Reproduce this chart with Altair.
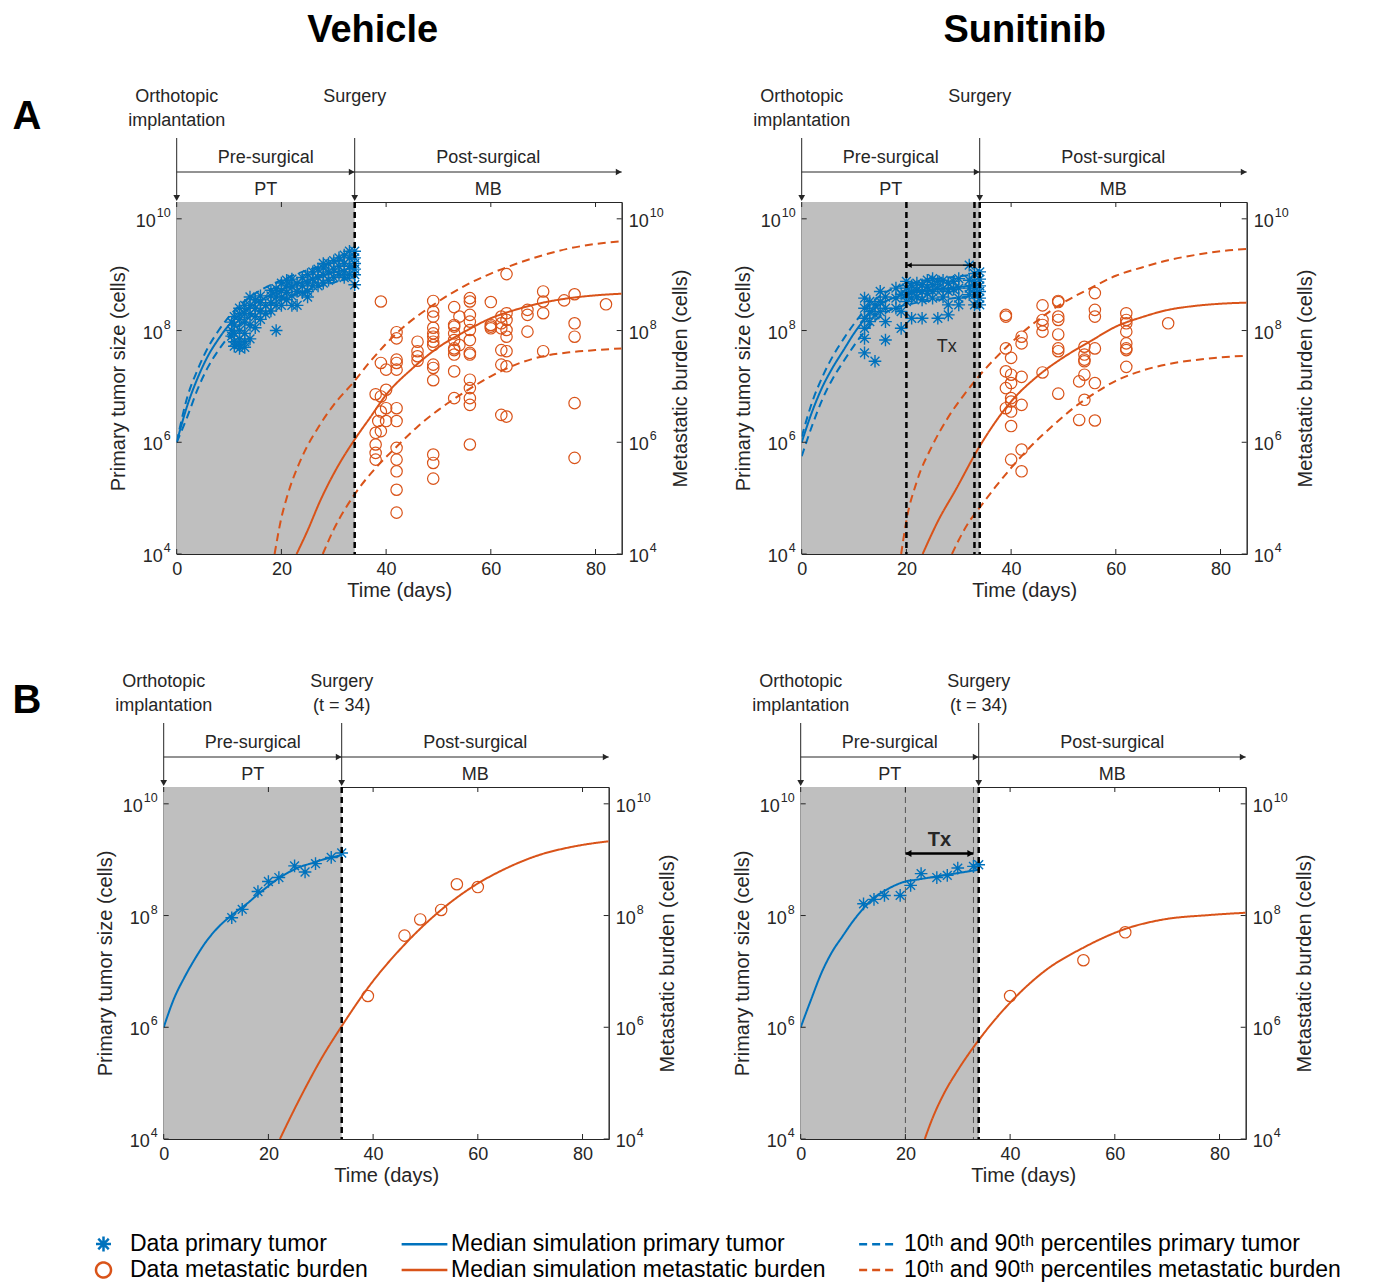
import altair as alt
import pandas as pd

# ---------------- style ----------------
BLUE = "#0072BD"
ORANGE = "#D95319"
SHADE = "#BFBFBF"
INK = "#262626"
FONT = "Liberation Sans"

# ---------------- legend categories ----------------
SERIES = [
    "Data primary tumor",
    "Median simulation primary tumor",
    "10ᵗʰ and 90ᵗʰ percentiles primary tumor",
    "Data metastatic burden",
    "Median simulation metastatic burden",
    "10ᵗʰ and 90ᵗʰ percentiles metastatic burden",
]
ASTERISK = "M-1,0L1,0M0,-1L0,1M-0.7,-0.7L0.7,0.7M-0.7,0.7L0.7,-0.7"
LONG_STROKE = "M-3.05,0L3.05,0"
SHORT_STROKE = "M-2.45,0L2.45,0"
SHAPES = [ASTERISK, LONG_STROKE, SHORT_STROKE, "circle", LONG_STROKE, SHORT_STROKE]
COLORS = [BLUE, BLUE, BLUE, ORANGE, ORANGE, ORANGE]
DASHES = [[1, 0], [1, 0], [8, 5], [1, 0], [1, 0], [8, 5]]

# ---------------- axes ----------------
X_TICKS = [0, 20, 40, 60, 80]
X_DOMAIN = [0, 85]
Y_EXP = [4, 6, 8, 10]
Y_BASE = "10"
Y_DOMAIN = [1e4, 2e10]

# ---------------- timeline ----------------
EVENT_DAYS = [0, 34]
EVENT_LINE1 = ["Orthotopic", "Surgery"]
EVENT_LINE2_A = ["implantation", ""]
EVENT_LINE2_B = ["implantation", "(t = 34)"]
PHASE_START = [0, 34]
PHASE_END = [34, 85]
PHASE_NAME = ["Pre-surgical", "Post-surgical"]
PHASE_COMP = ["PT", "MB"]
SURGERY_DAY = [34]
TX_START = [20]
TX_END = [33]

# ================= A: Vehicle =================
veh_pt_days = [10.5, 11, 12, 13, 14, 15, 16, 17, 18, 19, 20, 21, 22, 23, 24, 25, 26, 27, 28, 29, 30, 31, 32, 33, 34]
veh_pt_log10 = [
    [8.0, 8.15, 7.9], [7.72, 7.8, 7.95, 8.1, 8.25], [7.68, 7.75, 7.85, 8.0, 8.2, 8.3, 8.4],
    [7.7, 7.8, 7.95, 8.15, 8.3, 8.45], [7.85, 8.1, 8.3, 8.45, 8.6], [8.05, 8.25, 8.4, 8.55],
    [8.2, 8.35, 8.5, 8.62], [8.3, 8.45], [8.35, 8.5, 8.62, 8.72], [8.0, 8.45, 8.6, 8.75],
    [8.45, 8.6, 8.72, 8.85], [8.55, 8.68, 8.8, 8.9], [8.45, 8.62, 8.78, 8.92], [8.45, 8.7, 8.85],
    [8.68, 8.8, 8.95], [8.6, 8.7, 8.85, 9.0], [8.8, 8.92, 9.05], [8.8, 8.95, 9.1],
    [8.85, 9.0, 9.12, 9.2], [8.9, 9.05, 9.2], [8.95, 9.1, 9.25], [9.0, 9.15, 9.3],
    [8.95, 9.05, 9.2, 9.35], [9.0, 9.15, 9.3, 9.42], [8.82, 9.0, 9.1, 9.2, 9.3, 9.42],
]
veh_mb_days = [38, 38.5, 39, 40, 42, 46, 49, 53, 54, 56, 60, 62, 63, 67, 70, 74, 76, 82]
veh_mb_log10 = [
    [6.86, 5.96, 5.81, 5.69, 6.17], [6.38], [8.52, 7.42, 6.82, 6.55, 6.20], [7.30, 6.94, 6.61, 6.38],
    [7.97, 7.86, 7.48, 7.42, 7.30, 6.61, 6.38, 5.90, 5.69, 5.48, 5.15, 4.74], [7.80, 7.63, 7.54, 7.46],
    [8.53, 8.34, 8.25, 8.05, 7.95, 7.89, 7.80, 7.74, 7.39, 7.33, 7.11, 5.78, 5.63, 5.35],
    [8.42, 8.10, 8.07, 7.95, 7.83, 7.68, 7.65, 7.57, 7.27, 6.79], [8.25, 7.74],
    [8.58, 8.52, 8.28, 8.16, 8.01, 7.83, 7.60, 7.57, 7.12, 6.97, 6.79, 6.67, 5.96],
    [8.51, 8.10, 8.07, 8.04], [8.25, 8.13, 8.04, 7.65, 7.39, 6.49],
    [9.01, 8.31, 8.19, 8.01, 7.89, 7.63, 7.36, 6.46], [8.37, 8.28, 7.98], [8.70, 8.52, 8.31, 7.63],
    [8.54], [8.65, 8.13, 7.89, 6.70, 5.72], [8.47],
]
veh_pt_sim_days = [0, 2, 4, 6, 8, 10, 12, 14, 16, 18, 20, 22, 24, 26, 28, 30, 32, 34]
veh_pt_med = [6.0, 6.65, 7.15, 7.55, 7.85, 8.1, 8.27, 8.42, 8.54, 8.64, 8.73, 8.8, 8.87, 8.93, 8.99, 9.04, 9.09, 9.13]
veh_pt_p90 = [6.0, 6.8, 7.3, 7.7, 8.0, 8.25, 8.45, 8.6, 8.72, 8.82, 8.9, 8.98, 9.05, 9.11, 9.17, 9.22, 9.27, 9.31]
veh_pt_p10 = [6.0, 6.45, 6.95, 7.35, 7.65, 7.9, 8.1, 8.25, 8.37, 8.47, 8.55, 8.62, 8.69, 8.75, 8.81, 8.86, 8.91, 8.95]
veh_mb_med_days = [22.9, 25, 27.4, 30.6, 34, 37, 40, 45, 50, 55, 60, 65, 70, 75, 80, 85]
veh_mb_med = [4.0, 4.42, 4.95, 5.54, 6.05, 6.45, 6.85, 7.32, 7.7, 7.98, 8.22, 8.38, 8.5, 8.58, 8.63, 8.66]
veh_mb_p90_days = [18.7, 20, 21, 24, 27, 30, 34, 37, 42, 50, 55, 60, 65, 70, 75, 80, 85]
veh_mb_p90 = [4.0, 4.65, 5.0, 5.75, 6.26, 6.67, 7.1, 7.45, 7.95, 8.52, 8.8, 9.02, 9.2, 9.35, 9.47, 9.55, 9.6]
veh_mb_p10_days = [27.9, 30, 34, 38, 42, 46, 50, 55, 60, 65, 70, 75, 80, 85]
veh_mb_p10 = [4.0, 4.44, 5.07, 5.54, 5.92, 6.28, 6.58, 6.9, 7.18, 7.4, 7.54, 7.61, 7.65, 7.68]

# ================= A: Sunitinib =================
sun_pt_days = [12, 13, 14, 15, 16, 18, 19, 20, 21, 22, 23, 24, 25, 26, 27, 28, 29, 30, 32, 33, 34]
sun_pt_log10 = [
    [8.58, 8.40, 8.22, 8.04, 7.86, 7.60], [8.52, 8.34, 8.16], [8.46, 8.28, 7.45], [8.70, 8.52, 8.34],
    [8.60, 8.40, 8.16, 7.83], [8.76, 8.58, 8.40], [8.34, 8.04, 8.65], [8.88, 8.76, 8.64, 8.52],
    [8.80, 8.70, 8.58, 8.22], [8.85, 8.72, 8.60], [8.82, 8.70, 8.55, 8.22], [8.90, 8.78, 8.66],
    [8.93, 8.82, 8.70, 8.58], [8.88, 8.76, 8.22], [8.90, 8.75, 8.60], [8.85, 8.70, 8.46, 8.28],
    [8.88, 8.74], [8.93, 8.76, 8.58, 8.46], [9.17, 8.90, 8.76, 8.64], [9.02, 8.88, 8.76, 8.64, 8.46],
    [9.05, 8.92, 8.80, 8.70, 8.58, 8.46],
]
sun_mb_days = [39, 40, 42, 46, 49, 53, 54, 56, 62, 70]
sun_mb_log10 = [
    [8.28, 8.25, 7.68, 7.27, 6.97, 6.61], [7.51, 7.21, 7.06, 6.79, 6.73, 6.55, 6.29, 5.69],
    [7.89, 7.77, 7.17, 6.67, 5.87, 5.48], [8.45, 8.19, 8.10, 7.98, 7.25],
    [8.53, 8.51, 8.25, 8.19, 7.93, 7.68, 7.63, 6.87], [7.09, 6.40], [7.71, 7.57, 7.48, 7.45, 7.21, 6.76],
    [8.67, 8.37, 8.25, 7.68, 7.06, 6.39], [8.31, 8.19, 8.13, 7.98, 7.77, 7.68, 7.65, 7.35], [8.13],
]
sun_pt_sim_days = [0, 2, 4, 6, 8, 10, 12, 14, 16, 18, 20, 22, 24, 26, 28, 30, 32, 34]
sun_pt_med = [6.0, 6.55, 7.0, 7.35, 7.65, 7.95, 8.2, 8.4, 8.52, 8.6, 8.65, 8.69, 8.72, 8.74, 8.76, 8.78, 8.8, 8.82]
sun_pt_p90 = [6.1, 6.72, 7.18, 7.55, 7.85, 8.12, 8.36, 8.55, 8.68, 8.77, 8.83, 8.87, 8.9, 8.93, 8.95, 8.97, 8.99, 9.01]
sun_pt_p10 = [5.75, 6.3, 6.78, 7.15, 7.45, 7.73, 7.98, 8.18, 8.32, 8.41, 8.46, 8.5, 8.53, 8.55, 8.57, 8.59, 8.61, 8.63]
sun_mb_med_days = [23.1, 26.2, 29.3, 34, 40, 45, 50, 55, 60, 65, 70, 75, 80, 85]
sun_mb_med = [4.0, 4.62, 5.13, 5.93, 6.73, 7.18, 7.52, 7.8, 8.07, 8.24, 8.37, 8.44, 8.48, 8.5]
sun_mb_p90_days = [19, 20, 22, 25, 28, 31, 34, 38, 42, 46, 50, 55, 60, 65, 70, 75, 80, 85]
sun_mb_p90 = [4.0, 4.6, 5.3, 5.95, 6.45, 6.85, 7.2, 7.6, 7.95, 8.25, 8.5, 8.75, 8.98, 9.13, 9.26, 9.35, 9.42, 9.46]
sun_mb_p10_days = [28.7, 30, 32, 34, 37, 40, 44, 48, 52, 56, 60, 65, 70, 75, 80, 85]
sun_mb_p10 = [4.0, 4.25, 4.58, 4.83, 5.2, 5.54, 5.95, 6.3, 6.62, 6.88, 7.1, 7.28, 7.4, 7.47, 7.52, 7.55]
sun_tx_level_a = 9.17
sun_tx_label_a = (27.7, 7.71)

# ================= B: representative animals =================
bveh_pt_days = [13, 15, 18, 20, 22, 25, 27, 29, 32, 34]
bveh_pt_log10 = [7.96, 8.11, 8.43, 8.61, 8.68, 8.89, 8.78, 8.93, 9.04, 9.12]
bveh_mb_days = [39, 46, 49, 53, 56, 60]
bveh_mb_log10 = [6.56, 7.64, 7.93, 8.1, 8.56, 8.51]
bveh_pt_sim_days = [0, 2, 4, 6, 8, 10, 12, 14, 16, 18, 20, 22, 24, 26, 28, 30, 32, 34]
bveh_pt_med = [6.0, 6.52, 6.9, 7.23, 7.52, 7.75, 7.93, 8.08, 8.22, 8.38, 8.53, 8.67, 8.78, 8.87, 8.93, 8.99, 9.04, 9.08]
bveh_mb_med_days = [22.2, 24, 27.2, 30, 34, 39.2, 46.2, 52.6, 58.9, 65.3, 71.6, 78, 85]
bveh_mb_med = [4.0, 4.35, 4.94, 5.42, 6.02, 6.73, 7.5, 8.07, 8.51, 8.84, 9.08, 9.23, 9.33]

bsun_pt_days = [12, 14, 16, 19, 21, 23, 26, 28, 30, 33, 34]
bsun_pt_log10 = [8.21, 8.29, 8.36, 8.36, 8.54, 8.75, 8.68, 8.72, 8.85, 8.88, 8.91]
bsun_mb_days = [40, 54, 62]
bsun_mb_log10 = [6.56, 7.2, 7.7]
bsun_pt_sim_days = [0, 2, 4, 6, 8, 10, 12, 14, 16, 18, 20, 22, 24, 26, 28, 30, 32, 34]
bsun_pt_med = [6.0, 6.5, 6.98, 7.35, 7.63, 7.9, 8.13, 8.32, 8.44, 8.54, 8.61, 8.64, 8.67, 8.7, 8.73, 8.76, 8.79, 8.82]
bsun_mb_med_days = [23.7, 25, 27.4, 30, 34, 40.1, 46.5, 54.1, 62.3, 68.7, 78.2, 85]
bsun_mb_med = [4.0, 4.33, 4.82, 5.23, 5.77, 6.45, 7.0, 7.43, 7.77, 7.92, 8.01, 8.05]
bsun_tx_level_b = 9.11
bsun_tx_label_b = (26.5, 9.35)

# ================= helpers =================
XSCALE = alt.Scale(domain=X_DOMAIN, nice=False, zero=False)
YSCALE = alt.Scale(type="log", domain=Y_DOMAIN, nice=False)
Y_VALUES = [10 ** e for e in Y_EXP]

XAXIS = alt.Axis(values=X_TICKS, title="Time (days)", labelPadding=6, titlePadding=2, labelFlush=False)
LEFT_AXIS = alt.Axis(orient="left", values=Y_VALUES, labels=False, title="Primary tumor size (cells)",
                     titlePadding=48)
RIGHT_AXIS = alt.Axis(orient="right", values=Y_VALUES, labels=False, title="Metastatic burden (cells)",
                      titlePadding=49, titleAngle=270, titleBaseline="top")

LEG = alt.Legend(title=None, orient="none", legendX=65, legendY=1030.5, columns=3, direction="horizontal")
COLOR = alt.Color("series:N", scale=alt.Scale(domain=SERIES, range=COLORS), legend=LEG)
SHAPE = alt.Shape("series:N", scale=alt.Scale(domain=SERIES, range=SHAPES), legend=LEG)
DASH = alt.StrokeDash("series:N", scale=alt.Scale(domain=SERIES, range=DASHES), legend=LEG)

W, H = 445, 352
TICK_LEN = 5


def X(f):
    return alt.X(f"{f}:Q", scale=XSCALE, axis=XAXIS)


def YL(f):
    return alt.Y(f"{f}:Q", scale=YSCALE, axis=LEFT_AXIS)


def YR(f):
    return alt.Y(f"{f}:Q", scale=YSCALE, axis=RIGHT_AXIS)


def grouped(days, groups, series):
    rows = []
    for d, vals in zip(days, groups):
        for lv in vals:
            rows.append({"t": d, "v": 10 ** lv, "series": series})
    return pd.DataFrame(rows)


def flat(days, logs, series, bound="m"):
    return pd.DataFrame({"t": days, "v": [10 ** lv for lv in logs], "series": series, "bound": bound})


def points(df, Y, size, sw):
    return alt.Chart(df).mark_point(filled=False, size=size, strokeWidth=sw, opacity=1).encode(
        x=X("t"), y=Y("v"), color=COLOR, shape=SHAPE)


def curve(df, Y):
    return alt.Chart(df).mark_line(strokeWidth=2, interpolate="monotone", clip=True).encode(
        x=X("t"), y=Y("v"), color=COLOR, strokeDash=DASH, detail="bound:N")


def tick_labels(Y, side):
    """Power-of-ten tick labels ('10' with a raised exponent) and inward ticks, from the tick arrays."""
    df = pd.DataFrame({"v": Y_VALUES, "b": [Y_BASE] * len(Y_EXP), "e": [str(e) for e in Y_EXP],
                       "n": [len(str(e)) for e in Y_EXP]})
    out = []
    if side == "left":
        out.append(alt.Chart(df).mark_rule(color=INK, strokeWidth=1).encode(
            x=alt.value(0), x2=alt.value(TICK_LEN), y=Y("v")))
    else:
        out.append(alt.Chart(df).mark_rule(color=INK, strokeWidth=1).encode(
            x=alt.value(W - TICK_LEN), x2=alt.value(W), y=Y("v")))
    for n in (1, 2):
        sub = alt.Chart(df).transform_filter(f"datum.n == {n}")
        ew = 7 * n
        if side == "left":
            out.append(sub.mark_text(fontSize=18, color=INK, align="right", baseline="middle",
                                     dx=-(7 + ew), dy=3).encode(x=alt.value(0), y=Y("v"), text="b:N"))
            out.append(sub.mark_text(fontSize=12.5, color=INK, align="right", baseline="middle",
                                     dx=-6, dy=-6).encode(x=alt.value(0), y=Y("v"), text="e:N"))
        else:
            out.append(sub.mark_text(fontSize=18, color=INK, align="left", baseline="middle",
                                     dx=7, dy=3).encode(x=alt.value(W), y=Y("v"), text="b:N"))
            out.append(sub.mark_text(fontSize=12.5, color=INK, align="left", baseline="middle",
                                     dx=28, dy=-6).encode(x=alt.value(W), y=Y("v"), text="e:N"))
    return out


def x_ticks():
    df = pd.DataFrame({"t": X_TICKS})
    base = alt.Chart(df).mark_rule(color=INK, strokeWidth=1)
    return [
        base.encode(x=X("t"), y=alt.value(H - TICK_LEN), y2=alt.value(H)),
        base.encode(x=X("t"), y=alt.value(0), y2=alt.value(TICK_LEN)),
    ]


def timeline(line2):
    ev = pd.DataFrame({"t": EVENT_DAYS, "l1": EVENT_LINE1, "l2": line2})
    ph = pd.DataFrame({"t0": PHASE_START, "t1": PHASE_END, "name": PHASE_NAME, "comp": PHASE_COMP})
    eb = alt.Chart(ev)
    pb = alt.Chart(ph).transform_calculate(mid="(datum.t0 + datum.t1) / 2")
    txt = dict(fontSize=18, color=INK, baseline="middle", align="center")
    return [
        eb.mark_text(**txt).encode(x=X("t"), y=alt.value(-105), text="l1:N"),
        eb.transform_filter("datum.l2 != ''").mark_text(**txt).encode(x=X("t"), y=alt.value(-81), text="l2:N"),
        eb.mark_rule(color=INK, strokeWidth=1).encode(x=X("t"), y=alt.value(-64), y2=alt.value(-6)),
        eb.mark_point(shape="triangle-down", filled=True, size=45, color=INK, opacity=1).encode(
            x=X("t"), y=alt.value(-4)),
        pb.mark_rule(color=INK, strokeWidth=1).encode(x=X("t0"), x2=alt.X2("t1"), y=alt.value(-30)),
        pb.mark_point(shape="triangle-right", filled=True, size=45, color=INK, opacity=1, xOffset=-3).encode(
            x=X("t1"), y=alt.value(-30)),
        pb.mark_text(**txt).encode(x=X("mid"), y=alt.value(-44), text="name:N"),
        pb.mark_text(**txt).encode(x=X("mid"), y=alt.value(-12), text="comp:N"),
    ]


def shade():
    ph = pd.DataFrame({"t0": PHASE_START[:1], "t1": PHASE_END[:1]})
    return alt.Chart(ph).mark_rect(color=SHADE).encode(x=X("t0"), x2=alt.X2("t1"))


def vrules(days, color, width, dash):
    return alt.Chart(pd.DataFrame({"t": days})).mark_rule(color=color, strokeWidth=width, strokeDash=dash).encode(
        x=X("t"))


def tx_arrow(level, label_pos, width, head, bold):
    df = pd.DataFrame({"t0": TX_START, "t1": TX_END, "v": [10 ** level]})
    lab = pd.DataFrame({"t": [label_pos[0]], "v": [10 ** label_pos[1]], "s": ["Tx"]})
    base = alt.Chart(df)
    return [
        base.mark_rule(color="black", strokeWidth=width).encode(x=X("t0"), x2=alt.X2("t1"), y=YL("v")),
        base.mark_point(shape="triangle-left", filled=True, size=head, color="black", opacity=1,
                        xOffset=3).encode(x=X("t0"), y=YL("v")),
        base.mark_point(shape="triangle-right", filled=True, size=head, color="black", opacity=1,
                        xOffset=-3).encode(x=X("t1"), y=YL("v")),
        alt.Chart(lab).mark_text(fontSize=20 if bold else 18, fontWeight="bold" if bold else "normal",
                                 color=INK).encode(x=X("t"), y=YL("v"), text="s:N"),
    ]


def label(text, dx, dy, size):
    return alt.Chart(pd.DataFrame({"k": [0]})).mark_text(
        fontSize=size, fontWeight="bold", color="black", baseline="middle", align="center").encode(
        x=alt.value(dx), y=alt.value(dy), text=alt.value(text))


def letter_cell(text, dy):
    """Panel letter in its own narrow, frameless cell at the left of a row."""
    return label(text, 0, dy, 40).properties(width=1, height=H, view=alt.ViewBackground(stroke="transparent"))


def panel(pct_pt, med_pt, pts_pt, pct_mb, med_mb, pts_mb, extra_left=(), below=(), above=(), line2=EVENT_LINE2_A):
    left = [c for c in (pct_pt, med_pt) if c is not None] + [pts_pt, *extra_left, *tick_labels(YL, "left")]
    right = [c for c in (pct_mb, med_mb) if c is not None] + [pts_mb, *tick_labels(YR, "right")]
    return alt.layer(
        shade(), *below, alt.layer(*left), alt.layer(*right), *x_ticks(),
        vrules(SURGERY_DAY, "black", 2.5, [6, 4]), *timeline(line2), *above,
    ).resolve_scale(y="independent").properties(width=W, height=H)


def pct(days_u, up, days_l, lo, s):
    return curve(pd.concat([flat(days_u, up, s, "u"), flat(days_l, lo, s, "l")]), YL if "primary" in s else YR)


a_left = panel(
    pct(veh_pt_sim_days, veh_pt_p90, veh_pt_sim_days, veh_pt_p10, SERIES[2]),
    curve(flat(veh_pt_sim_days, veh_pt_med, SERIES[1]), YL),
    points(grouped(veh_pt_days, veh_pt_log10, SERIES[0]), YL, 160, 1.4),
    pct(veh_mb_p90_days, veh_mb_p90, veh_mb_p10_days, veh_mb_p10, SERIES[5]),
    curve(flat(veh_mb_med_days, veh_mb_med, SERIES[4]), YR),
    points(grouped(veh_mb_days, veh_mb_log10, SERIES[3]), YR, 130, 1.2),
    above=[label("Vehicle", 196, -171, 38)],
)

a_right = panel(
    pct(sun_pt_sim_days, sun_pt_p90, sun_pt_sim_days, sun_pt_p10, SERIES[2]),
    curve(flat(sun_pt_sim_days, sun_pt_med, SERIES[1]), YL),
    points(grouped(sun_pt_days, sun_pt_log10, SERIES[0]), YL, 160, 1.4),
    pct(sun_mb_p90_days, sun_mb_p90, sun_mb_p10_days, sun_mb_p10, SERIES[5]),
    curve(flat(sun_mb_med_days, sun_mb_med, SERIES[4]), YR),
    points(grouped(sun_mb_days, sun_mb_log10, SERIES[3]), YR, 130, 1.2),
    extra_left=tx_arrow(sun_tx_level_a, sun_tx_label_a, 1.3, 30, False),
    above=[vrules(TX_START + TX_END, "black", 2.5, [6, 4]), label("Sunitinib", 223, -171, 38)],
)

b_left = panel(
    None,
    curve(flat(bveh_pt_sim_days, bveh_pt_med, SERIES[1]), YL),
    points(flat(bveh_pt_days, bveh_pt_log10, SERIES[0]), YL, 160, 1.4),
    None,
    curve(flat(bveh_mb_med_days, bveh_mb_med, SERIES[4]), YR),
    points(flat(bveh_mb_days, bveh_mb_log10, SERIES[3]), YR, 130, 1.2),
    line2=EVENT_LINE2_B,
)

b_right = panel(
    None,
    curve(flat(bsun_pt_sim_days, bsun_pt_med, SERIES[1]), YL),
    points(flat(bsun_pt_days, bsun_pt_log10, SERIES[0]), YL, 160, 1.4),
    None,
    curve(flat(bsun_mb_med_days, bsun_mb_med, SERIES[4]), YR),
    points(flat(bsun_mb_days, bsun_mb_log10, SERIES[3]), YR, 130, 1.2),
    extra_left=tx_arrow(bsun_tx_level_b, bsun_tx_label_b, 2.5, 50, True),
    below=[vrules(TX_START + TX_END, "#555555", 1, [6, 4])],
    line2=EVENT_LINE2_B,
)

row_a = alt.hconcat(letter_cell("A", -85), alt.hconcat(a_left, a_right, spacing=41), spacing=65.7)
row_b = alt.hconcat(letter_cell("B", -86), alt.hconcat(b_left, b_right, spacing=53), spacing=52.7)

chart = alt.vconcat(row_a, row_b, spacing=71).properties(
    padding={"left": 4, "top": 3, "right": 0, "bottom": 0},
    background="white",
).configure(font=FONT).configure_view(stroke=INK, strokeWidth=1).configure_axis(
    labelFont=FONT, titleFont=FONT, labelColor=INK, titleColor=INK, domainColor=INK, domainWidth=1,
    labelFontSize=18, titleFontSize=20, titleFontWeight="normal", grid=False, ticks=False,
).configure_legend(
    labelFont=FONT, labelFontSize=23, labelColor="black", symbolSize=225, symbolStrokeWidth=2.5,
    labelOffset=15, columnPadding=28, rowPadding=1, padding=0, labelLimit=600,
)

chart.save("out.html", embed_options={"renderer": "svg", "actions": False})
